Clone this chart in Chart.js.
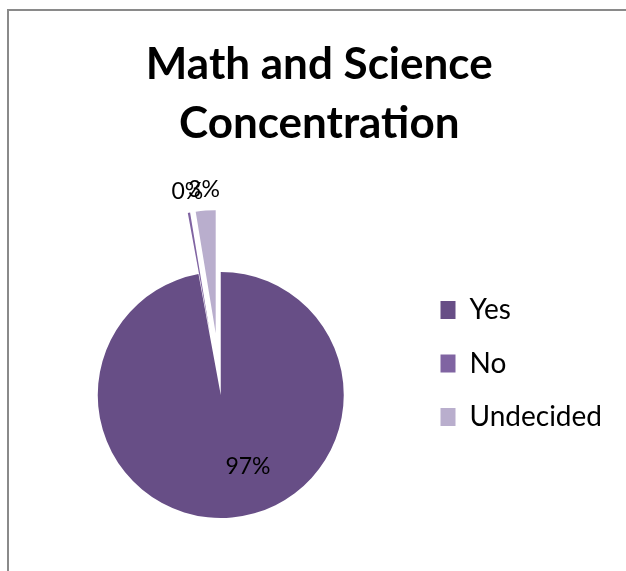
<!DOCTYPE html>
<html>
<head>
<meta charset="utf-8">
<script src="https://cdn.jsdelivr.net/npm/chart.js@4.4.0/dist/chart.umd.min.js"></script>
<style>
  html, body { margin: 0; padding: 0; background: #fff; overflow: hidden; }
  #frame {
    position: absolute; left: 7px; top: 9px; width: 700px; height: 700px;
    border-left: 2px solid #8a8a8a; border-top: 2px solid #8a8a8a;
  }
  #chartBox { position: absolute; left: 0; top: 0; width: 626px; height: 571px; }
</style>
</head>
<body>
<div id="frame"></div>
<div id="chartBox"><canvas id="pieChart" width="626" height="571"></canvas></div>
<script>
// dados
const categories = ['Yes', 'No', 'Undecided'];
const shares = [97.1, 0.3, 2.6];
const sliceColors = ['#674e86', '#8064a2', '#b9aecd'];
const explode = [0, 62, 62];

// posição dos rótulos de porcentagem
const labelRadius = [0.626, 1, 1];
const labelGap = [0, 21, 21];
const labelTurn = [-0.27, 0.01, 0];

// fatias destacadas: desloca cada arco inteiro (o offset do Chart.js só alonga a fatia)
const explodedSlices = {
    id: 'explodedSlices',
    beforeDatasetDraw(chart, args) {
        const ctx = chart.ctx;
        args.meta.data.forEach((arc, i) => {
            const mid = (arc.startAngle + arc.endAngle) / 2;
            ctx.save();
            ctx.translate(Math.cos(mid) * explode[i], Math.sin(mid) * explode[i]);
            arc.draw(ctx);
            ctx.restore();
        });
        return false;
    }
};

const sliceLabels = {
    id: 'sliceLabels',
    afterDatasetsDraw(chart) {
        const ctx = chart.ctx;
        const meta = chart.getDatasetMeta(0);
        const total = shares.reduce((a, b) => a + b, 0);
        ctx.save();
        ctx.font = '23px Lato';
        ctx.fillStyle = '#000';
        ctx.textAlign = 'center';
        ctx.textBaseline = 'middle';
        meta.data.forEach((arc, i) => {
            const p = arc.getProps(['x', 'y', 'startAngle', 'endAngle', 'outerRadius'], true);
            const mid = (p.startAngle + p.endAngle) / 2 + labelTurn[i];
            let dist = labelRadius[i] * p.outerRadius;
            if (labelGap[i]) dist += explode[i] + labelGap[i];
            const text = Math.round(shares[i] / total * 100) + '%';
            ctx.fillText(text, p.x + Math.cos(mid) * dist, p.y + Math.sin(mid) * dist);
        });
        ctx.restore();
    }
};

new Chart(document.getElementById('pieChart'), {
    type: 'pie',
    data: {
        labels: categories,
        datasets: [{
            data: shares,
            backgroundColor: sliceColors,
            borderWidth: 0,
            radius: 123
        }]
    },
    options: {
        responsive: false,
        animation: false,
        layout: { padding: { left: 26.5, right: 14, top: 0, bottom: 51.5 } },
        plugins: {
            title: {
                display: true,
                text: ['Math and Science', 'Concentration'],
                color: '#000',
                font: { family: 'Lato', size: 44, weight: 'bold', lineHeight: '58.5px' },
                padding: { top: 36, bottom: 117.5 }
            },
            legend: {
                position: 'right',
                align: 'start',
                fullSize: false,
                labels: {
                    color: '#000',
                    font: { family: 'Lato', size: 28 },
                    boxWidth: 15,
                    boxHeight: 18,
                    padding: 25.5
                }
            },
            tooltip: { enabled: false }
        }
    },
    plugins: [explodedSlices, sliceLabels]
});
</script>
</body>
</html>
